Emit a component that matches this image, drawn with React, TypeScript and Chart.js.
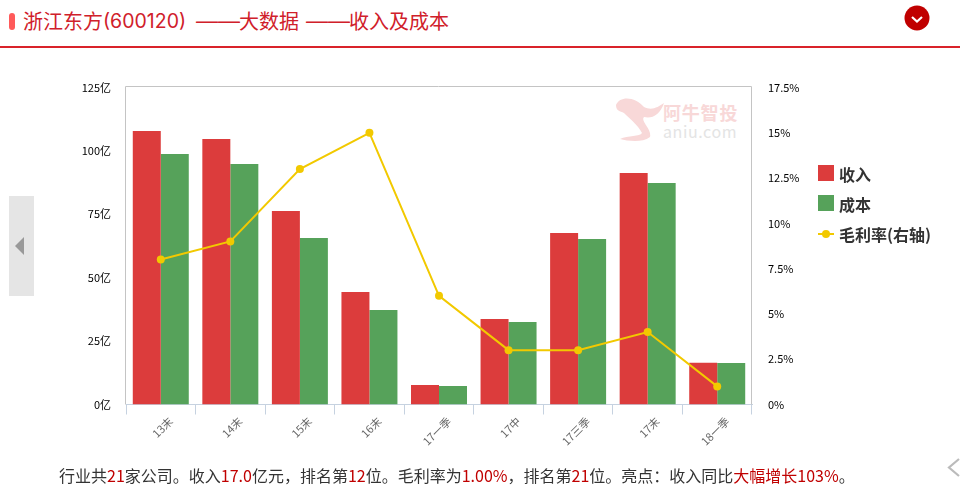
import React, { useEffect, useRef } from "react";
import { Chart, registerables } from "chart.js";

Chart.register(...registerables);

const categories = ["13末", "14末", "15末", "16末", "17一季", "17中", "17三季", "17末", "18一季"];
const revenue = [107.8, 104.7, 76.3, 44.4, 7.7, 33.7, 67.6, 91.3, 16.5];
const cost = [98.8, 94.8, 65.7, 37.3, 7.3, 32.5, 65.3, 87.3, 16.4];
const grossMargin = [8, 9, 13, 15, 6, 3, 3, 4, 1];

const RED = "#dc3c3c";
const GREEN = "#56a25a";
const YELLOW = "#f2c900";
const FONT = '"Noto Sans CJK SC", "Noto Sans", sans-serif';
const TITLE_RED = "#d0202a";

const frame = {
  id: "frame",
  beforeDatasetsDraw(chart: any) {
    const { ctx, chartArea: a } = chart;
    const top = Math.floor(a.top) - 0.5;
    ctx.save();
    ctx.strokeStyle = "#c4c4c4";
    ctx.lineWidth = 1;
    ctx.beginPath();
    ctx.moveTo(a.left - 0.5, a.bottom);
    ctx.lineTo(a.left - 0.5, top);
    ctx.lineTo(a.right - 0.5, top);
    ctx.lineTo(a.right - 0.5, a.bottom);
    ctx.stroke();
    ctx.restore();
  },
};

const summary: [string, boolean][] = [
  ["行业共", false], ["21", true], ["家公司。收入", false], ["17.0", true], ["亿元，排名第", false], ["12", true],
  ["位。毛利率为", false], ["1.00%", true], ["，排名第", false], ["21", true], ["位。亮点：收入同比", false],
  ["大幅增长103%", true], ["。", false],
];

const titleParts: [string, number, string, number][] = [
  ["浙江东方", 23, FONT, 20],
  ["(600120)", 103, "Inter", 19.5],
  ["——", 196, '"Liberation Sans"', 22],
  ["大数据", 239, FONT, 20],
  ["——", 306, '"Liberation Sans"', 22],
  ["收入及成本", 349, FONT, 20],
];

const abs = (o: React.CSSProperties): React.CSSProperties => ({ position: "absolute", ...o });

export default function App() {
  const ref = useRef<HTMLCanvasElement>(null);
  useEffect(() => {
    document.body.style.margin = "0";
    document.body.style.overflow = "hidden";
    const chart = new Chart(ref.current!, {
      type: "bar",
      data: {
        labels: categories,
        datasets: [
          { type: "line", label: "毛利率(右轴)", data: grossMargin, yAxisID: "y1", borderColor: YELLOW, backgroundColor: YELLOW, borderWidth: 2, pointRadius: 4, pointBackgroundColor: YELLOW, pointBorderWidth: 0, tension: 0, order: 0 },
          { label: "收入", data: revenue, backgroundColor: RED, yAxisID: "y", categoryPercentage: 0.805, barPercentage: 1, order: 1 },
          { label: "成本", data: cost, backgroundColor: GREEN, yAxisID: "y", categoryPercentage: 0.805, barPercentage: 1, order: 1 },
        ],
      } as any,
      options: {
        animation: false,
        responsive: false,
        layout: { padding: { top: 87.5, left: 0, right: 0, bottom: 0 } },
        plugins: { legend: { display: false }, tooltip: { enabled: false } },
        scales: {
          x: {
            grid: { display: true, drawOnChartArea: false, drawTicks: true, tickLength: 10, color: "#c6d2e0", offset: true },
            border: { color: "#c6d2e0" },
            ticks: { minRotation: 45, maxRotation: 45, autoSkip: false, labelOffset: 10, padding: 0, color: "#666", font: { family: FONT, size: 11 } },
            afterFit(s: any) { s.height = 89.5; },
          },
          y: {
            min: 0, max: 125, position: "left",
            grid: { display: false, drawTicks: false },
            border: { display: false },
            ticks: { stepSize: 25, padding: 15, color: "#000", font: { family: FONT, size: 11 }, callback: (v: any) => `${v}亿` },
            afterFit(s: any) { s.width = 126; },
          },
          y1: {
            min: 0, max: 17.5, position: "right",
            grid: { display: false, drawTicks: false },
            border: { display: false },
            ticks: { stepSize: 2.5, padding: 16, color: "#000", font: { family: FONT, size: 11 }, callback: (v: any) => `${v}%` },
            afterFit(s: any) { s.width = 208; },
          },
        },
      },
      plugins: [frame],
    } as any);
    return () => chart.destroy();
  }, []);

  return (
    <div style={{ position: "relative", width: 960, height: 494, overflow: "hidden", background: "#fff", fontFamily: FONT }}>
      <div style={abs({ left: 9, top: 13, width: 6, height: 17, borderRadius: 3, background: "#ff5a5a" })} />
      {titleParts.map(([t, x, f, s], i) => (
        <div key={i} style={abs({ left: x, top: 7, height: 28, fontFamily: f, fontSize: s, lineHeight: "28px", color: TITLE_RED, whiteSpace: "nowrap" })}>{t}</div>
      ))}
      <div style={abs({ left: 0, top: 46, width: 960, height: 2, background: "#d9232a" })} />
      <svg style={abs({ left: 904, top: 5 })} width="26" height="26">
        <circle cx="13" cy="13" r="12.5" fill="#c00000" />
        <path d="M8 12 L13 16.5 L18 12" fill="none" stroke="#fff" strokeWidth="2.2" />
      </svg>

      <svg style={abs({ left: 614, top: 97 })} width="50" height="44">
        <path d="M2 8 C6 -2 22 0 30 10 C38 14 44 10 50 6 C46 18 38 22 30 20 C26 24 38 32 36 40 C28 46 14 44 6 42 C14 38 26 40 28 36 C24 28 14 20 10 16 C6 14 2 14 2 8 Z" fill="#f8d8d8" />
      </svg>
      <div style={abs({ left: 663, top: 99, fontSize: 18, lineHeight: "26px", fontWeight: 700, letterSpacing: 0.8, color: "#f8d8d8", whiteSpace: "nowrap" })}>阿牛智投</div>
      <div style={abs({ left: 663, top: 120, fontSize: 16, lineHeight: "22px", color: "#e4e4e4", letterSpacing: 0.6, whiteSpace: "nowrap" })}>aniu.com</div>

      <canvas ref={ref} width={960} height={494} style={abs({ left: 0, top: 0 })} />

      <div style={abs({ left: 9, top: 196, width: 25, height: 100, background: "#e5e5e5" })} />
      <svg style={abs({ left: 14, top: 236 })} width="12" height="20"><path d="M10 1 L1 10 L10 19 Z" fill="#999" /></svg>
      <svg style={abs({ left: 946, top: 458 })} width="14" height="20"><path d="M13 1 L3 9.5 L13 18" fill="none" stroke="#bbb" strokeWidth="2.2" /></svg>

      {[{ l: "收入", c: RED }, { l: "成本", c: GREEN }].map((it, i) => (
        <React.Fragment key={it.l}>
          <div style={abs({ left: 818, top: 165 + i * 30, width: 16, height: 16, background: it.c })} />
          <div style={abs({ left: 839, top: 162 + i * 30, fontSize: 16, lineHeight: "24px", fontWeight: 700, color: "#333", whiteSpace: "nowrap" })}>{it.l}</div>
        </React.Fragment>
      ))}
      <svg style={abs({ left: 818, top: 228 })} width="16" height="12">
        <line x1="0" y1="6" x2="16" y2="6" stroke={YELLOW} strokeWidth="2" />
        <circle cx="8" cy="6" r="4" fill={YELLOW} />
      </svg>
      <div style={abs({ left: 839, top: 222, fontSize: 16, lineHeight: "24px", fontWeight: 700, color: "#333", whiteSpace: "nowrap" })}>毛利率(右轴)</div>

      <div style={abs({ left: 59, top: 464, fontSize: 16, lineHeight: "22px", color: "#333", whiteSpace: "nowrap" })}>
        {summary.map(([t, hi], i) => <span key={i} style={hi ? { color: "#c00000" } : undefined}>{t}</span>)}
      </div>
    </div>
  );
}
